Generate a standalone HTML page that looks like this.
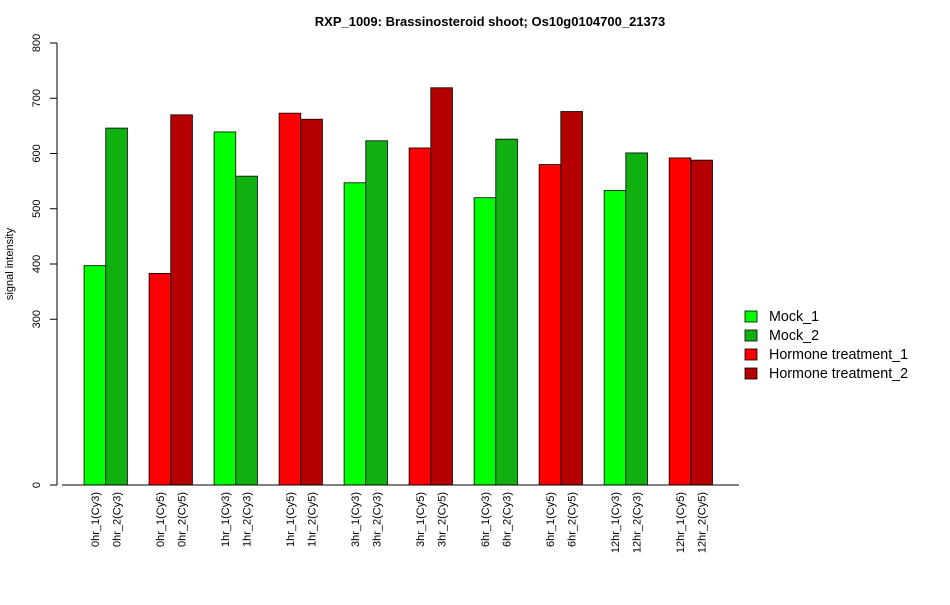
<!DOCTYPE html>
<html><head><meta charset="utf-8"><style>
body{margin:0;background:#fff;}
svg text{font-family:"Liberation Sans",Arial,sans-serif;}
</style></head><body>
<svg id="chart" width="950" height="600">
<text x="490" y="26" text-anchor="middle" font-size="13" font-weight="bold">RXP_1009: Brassinosteroid shoot; Os10g0104700_21373</text>
<text transform="translate(13,264) rotate(-90)" text-anchor="middle" font-size="11">signal intensity</text>
<g id="bars"></g>
<g id="yaxis"></g>
<g id="xlabels"></g>
<g id="legend"></g>
</svg>
<script>
const categories=["0hr_1(Cy3)","0hr_2(Cy3)","0hr_1(Cy5)","0hr_2(Cy5)","1hr_1(Cy3)","1hr_2(Cy3)","1hr_1(Cy5)","1hr_2(Cy5)","3hr_1(Cy3)","3hr_2(Cy3)","3hr_1(Cy5)","3hr_2(Cy5)","6hr_1(Cy3)","6hr_2(Cy3)","6hr_1(Cy5)","6hr_2(Cy5)","12hr_1(Cy3)","12hr_2(Cy3)","12hr_1(Cy5)","12hr_2(Cy5)"];
const values=[397,646,383,670,639,559,673,662,547,623,610,719,520,626,580,676,533,601,592,588];
const seriesIdx=[0,1,2,3,0,1,2,3,0,1,2,3,0,1,2,3,0,1,2,3];
const seriesNames=["Mock_1","Mock_2","Hormone treatment_1","Hormone treatment_2"];
const seriesColors=["#00ff00","#10b010","#ff0000","#b40000"];
const yTicks=[0,300,400,500,600,700,800];
const NS="http://www.w3.org/2000/svg";
const y0=485,y1=43,yMax=800;
const yS=v=>y0-(v/yMax)*(y0-y1);
const unit=21.67,xStart=62.4;
const xS=i=>xStart+unit*(1+Math.floor(i/2)*3+(i%2));
function mk(t,a,p){const e=document.createElementNS(NS,t);for(const k in a)e.setAttribute(k,a[k]);p.appendChild(e);return e;}
const bars=document.getElementById('bars');
values.forEach((v,i)=>{
 const r=mk('rect',{x:xS(i),y:yS(v),width:unit,height:y0-yS(v),fill:seriesColors[seriesIdx[i]],stroke:"#000","stroke-width":0.8},bars);
 
 
});
const ya=document.getElementById('yaxis');
mk('line',{x1:57,x2:57,y1:yS(0),y2:yS(800),stroke:"#000"},ya);
yTicks.forEach(t=>{
 mk('line',{x1:50,x2:57,y1:yS(t),y2:yS(t),stroke:"#000"},ya);
 const tx=mk('text',{transform:`translate(40,${yS(t)}) rotate(-90)`,"text-anchor":"middle","font-size":11},ya);
 tx.textContent=t;
 
 
});
mk('line',{x1:62,x2:739,y1:485,y2:485,stroke:"#000"},ya);
const xl=document.getElementById('xlabels');
categories.forEach((c,i)=>{
 const cx=xS(i)+unit/2+4;
 const tx=mk('text',{transform:`translate(${cx},492) rotate(-90)`,"text-anchor":"end","font-size":11},xl);
 tx.textContent=c;
 
 
});
const lg=document.getElementById('legend');
seriesNames.forEach((n,i)=>{
 const y=311+i*19;
 const r=mk('rect',{x:745,y:y,width:12,height:11,fill:seriesColors[i],stroke:"#000","stroke-width":0.8},lg);
 
 
 const t=mk('text',{x:769,y:y+10,"font-size":14.3},lg);
 t.textContent=n;
 
 
});
</script>
</body></html>
